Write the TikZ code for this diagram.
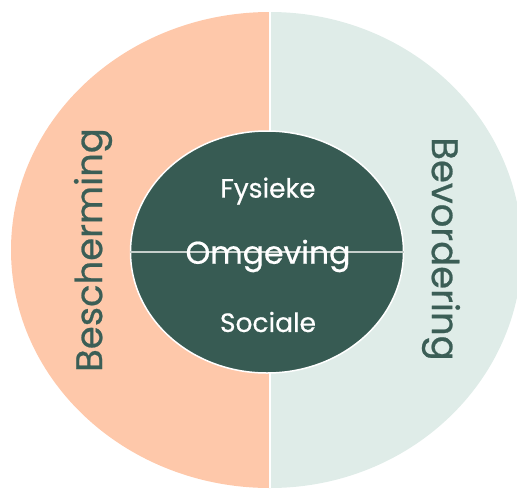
\documentclass[tikz,border=0pt]{standalone}
\usepackage{fontspec}
\setmainfont{Poppins}[FakeBold=0.6]
\usetikzlibrary{shapes.geometric}
\definecolor{peach}{HTML}{FEC8AA}
\definecolor{mint}{HTML}{DFECE8}
\definecolor{darkg}{HTML}{375B53}
\definecolor{textg}{HTML}{3B5E56}
\definecolor{midline}{HTML}{C5CFCB}
\begin{document}
\begin{tikzpicture}[x=1pt,y=-1pt,
  innertext/.style={text=white,font=\fontsize{26.5}{30}\selectfont,inner sep=0pt},
  side/.style={text=textg,font=\fontsize{37}{42}\selectfont,inner sep=0pt}]
\useasboundingbox (0,0) rectangle (517,488);
\clip (0,0) rectangle (517,488);
% outer halves
\fill[peach] (270,12) arc[start angle=-90,end angle=-270,x radius=259,y radius=238] -- cycle;
\fill[mint] (270,12) arc[start angle=-90,end angle=90,x radius=252,y radius=238] -- cycle;
\draw[white,line width=2] (270,0) -- (270,488);
% inner ellipse
\node[ellipse,draw=white,line width=1.5,fill=darkg,minimum width=273,minimum height=242,inner sep=0pt] (core) at (267,252) {};
\draw[midline,line width=1.5] (core.west) -- (core.east);
\node[text=white,font=\fontsize{31.5}{36}\selectfont,inner sep=0pt] (omg) at (268,256) {Omgeving};
\node[innertext] (fys) at (268,191) {Fysieke};
\node[innertext] (soc) at (268,322) {Sociale};
\node[side,rotate=90] (bes) at (93,250) {Bescherming};
\node[side,rotate=-90] (bev) at (441,249) {Bevordering};
\end{tikzpicture}
\end{document}
